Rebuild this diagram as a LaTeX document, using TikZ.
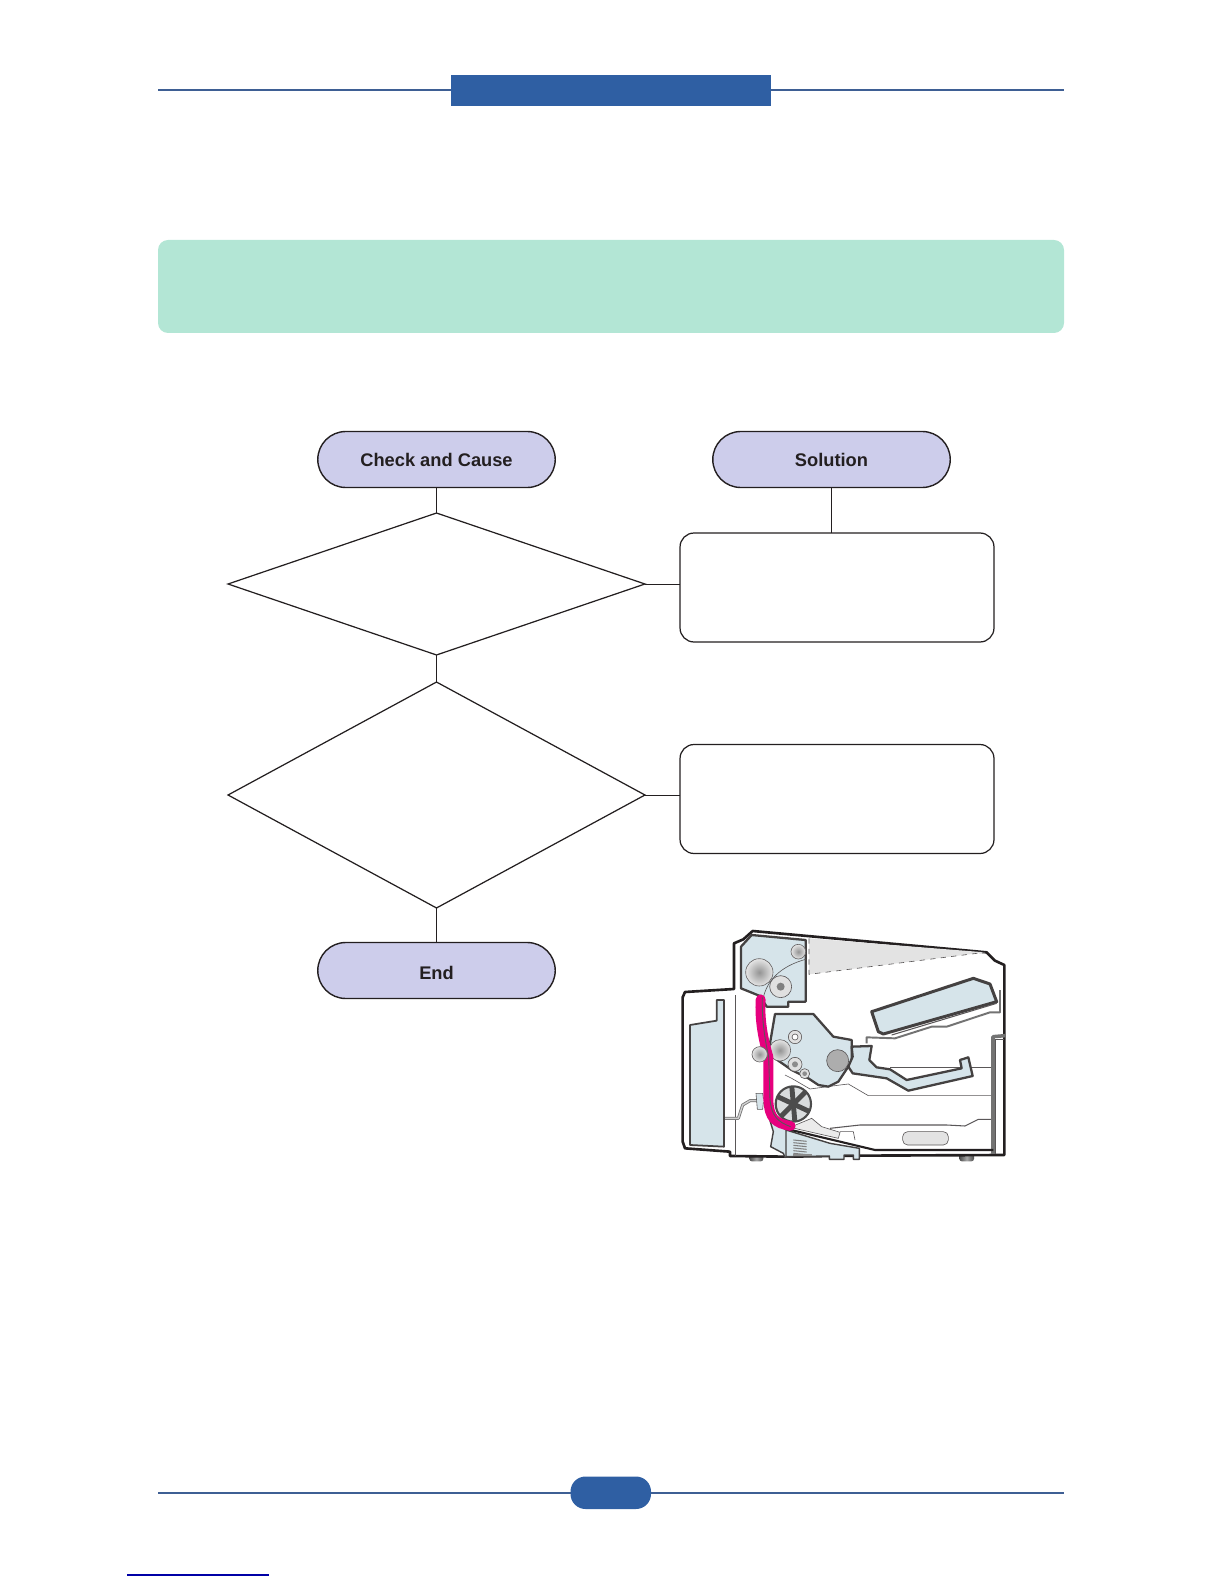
\documentclass[tikz,border=0pt]{standalone}
\usepackage{fontspec}
\setmainfont{Liberation Sans}
\usepackage{xcolor}
\usepackage{tikz}
\usetikzlibrary{positioning, shapes.geometric}
\definecolor{headblue}{HTML}{2F5FA3}
\definecolor{ruleblue}{HTML}{3E5F94}
\definecolor{mintband}{HTML}{B3E6D5}
\definecolor{lilacfill}{HTML}{CDCDEB}
\definecolor{inkline}{HTML}{231F20}
\definecolor{partblue}{HTML}{D6E4EA}
\definecolor{paperpink}{HTML}{E6007E}
\tikzset{
  endbox/.style={draw=inkline, fill=lilacfill, line width=0.8pt, rounded corners=5.6mm, minimum width=4.75cm, minimum height=1.12cm, inner sep=0pt, outer sep=0pt, font=\fontsize{10.4}{12}\selectfont\bfseries, text=inkline},
  checkbox/.style={draw=inkline, shape=diamond, line width=0.7pt, minimum width=8.34cm, inner sep=0pt, outer sep=0pt},
  solvebox/.style={draw=inkline, line width=0.7pt, rounded corners=2.8mm, minimum width=6.28cm, minimum height=2.18cm, inner sep=0pt, outer sep=0pt},
  link/.style={draw=inkline, line width=0.5pt},
  part/.style={draw=inkline!85, fill=partblue, line width=1.3pt, line join=round},
  thin part/.style={draw=inkline!75, line width=0.35pt},
  soft roller/.style={draw=inkline!70, line width=0.35pt, shade, shading=radial, inner color=black!42, outer color=black!10},
  grey pipe/.style={draw=black!55, line width=1.7pt, line join=round},
  grey core/.style={draw=black!18, line width=0.8pt, line join=round}
}
\begin{document}
\begin{tikzpicture}[x=0.02cm, y=-0.02cm]
    \useasboundingbox (0,0) rectangle (1224,1584);

    % page furniture
    \draw[ruleblue, line width=0.8pt] (158,90) -- (1064,90);
    \fill[headblue] (451,75) rectangle (771,106.5);
    \fill[mintband, rounded corners=2mm] (158,240) rectangle (1064,333);
    \draw[ruleblue, line width=0.8pt] (158,1493) -- (1064,1493);
    \fill[headblue, rounded corners=3mm] (570.5,1476.5) rectangle (651,1509);
    \draw[blue!65!black, line width=0.8pt] (127,1575) -- (269,1575);

    % flow
    \node[endbox] (check) at (436.5,459.5) {Check and Cause};
    \node[endbox] (solution) at (831.5,459.5) {Solution};
    \node[checkbox, minimum height=2.84cm] (first) at (436.5,584) {};
    \node[checkbox, minimum height=4.52cm] (second) at (436.5,795) {};
    \node[endbox] (finish) at (436.5,970.5) {\raisebox{-1.1pt}[7.5pt][0pt]{End}};
    \node[solvebox] (fixa) at (837,587.5) {};
    \node[solvebox] (fixb) at (837,799) {};
    \coordinate (fixtop) at (831.5,533);
    \coordinate (fixleft) at (680,584);
    \coordinate (fixleftb) at (680,795);

    \draw[link] (check) -- (first);
    \draw[link] (solution) -- (fixtop);
    \draw[link] (first) -- (second);
    \draw[link] (second) -- (finish);
    \draw[link] (first.east) -- (fixleft);
    \draw[link] (second.east) -- (fixleftb);

    % printer, traced at three units per pixel
    \begin{scope}[shift={(660,910)}, x=0.00667cm, y=-0.00667cm]
      % feet
      \shade[left color=black!70, right color=black!70, middle color=black!35, rounded corners=0.5mm] (268,732) rectangle (310,754);
      \shade[left color=black!70, right color=black!70, middle color=black!35, rounded corners=0.5mm] (898,728) rectangle (942,754);
      % body
      \draw[draw=inkline, line width=1.5pt, line join=round, fill=white] (68,262) -- (75,246) -- (222,237) -- (222,100) -- (250,88) -- (278,63) -- (980,127) -- (1005,152) -- (1033,165) -- (1033,735) -- (600,737) -- (378,740) -- (210,738) -- (210,725) -- (75,715) -- (68,695) -- cycle;
      % grey cover wedge
      \fill[black!11] (447,85) -- (975,127) -- (447,193) -- cycle;
      \draw[thin part, dashed] (447,85) -- (447,193) -- (975,127);
      \draw[thin part] (225,255) -- (225,737);
      % inner thin lines
      \draw[thin part] (690,472) -- (995,472);
      \draw[thin part] (375,495) -- (395,505) -- (450,537) -- (540,525) -- (565,522) -- (625,557) -- (995,557);
      \draw[thin part, line width=0.6pt] (510,655) -- (600,645) -- (860,645) -- (915,648) -- (955,628) -- (995,628);
      \draw[thin part] (510,655) -- (510,680);
      \draw[thin part] (540,665) -- (580,665) -- (585,690);
      % right door
      \draw[grey pipe, line width=2pt] (1035,377) -- (999,380) -- (999,732);
      \draw[thin part] (1033,388) -- (1007,388) -- (1007,732);
      % rear unit
      \draw[part, line width=1pt] (90,345) -- (170,332) -- (170,270) -- (192,270) -- (192,710) -- (90,705) -- cycle;
      \draw[grey pipe] (195,625) -- (235,625) -- (248,585) -- (270,572) -- (292,572);
      \draw[grey core] (195,625) -- (235,625) -- (248,585) -- (270,572) -- (292,572);
      \draw[thin part, fill=partblue] (288,550) -- (308,550) -- (310,565) -- (330,565) -- (330,575) -- (310,578) -- (308,598) -- (292,598) -- cycle;
      % fuser
      \draw[part] (243,110) -- (275,75) -- (437,90) -- (437,275) -- (385,275) -- (385,290) -- (320,290) -- (300,258) -- (243,235) -- cycle;
      \draw[soft roller] (298,187) circle (41);
      \draw[thin part, fill=black!12] (362,230) circle (33);
      \fill[black!50] (362,230) circle (12);
      \draw[soft roller] (415,125) circle (22);
      \draw[thin part] (310,262) .. controls (325,200) and (375,165) .. (437,148);
      % cartridge
      \draw[part] (345,312) -- (460,312) -- (520,380) -- (575,390) -- (575,455) -- (535,515) -- (505,530) -- (475,525) -- (445,505) -- (395,480) -- (345,445) -- (330,400) -- cycle;
      \draw[thin part, fill=black!12] (405,381) circle (20);
      \draw[thin part, fill=white] (405,381) circle (9);
      \draw[soft roller] (360,421) circle (32);
      \draw[thin part, fill=black!12] (405,463) circle (21);
      \fill[black!45] (405,463) circle (9);
      \draw[thin part, fill=black!12] (434,491) circle (15);
      \fill[black!45] (434,491) circle (7);
      \draw[thin part, fill=black!32] (533,452) circle (33);
      % transfer arm
      \draw[part] (575,410) -- (635,408) -- (628,450) -- (650,472) -- (690,478) -- (740,510) -- (905,475) -- (900,450) -- (925,442) -- (938,498) -- (745,542) -- (680,505) -- (578,490) -- (565,470) -- (578,440) -- cycle;
      % output tray
      \draw[part, line width=1.7pt] (635,305) -- (940,205) -- (990,222) -- (1010,275) -- (670,372) -- (655,365) -- cycle;
      \draw[grey pipe, line width=1.1pt] (620,400) -- (620,382) -- (705,385) -- (815,350) -- (860,350) -- (990,307) -- (1020,307) -- (1020,240);
      \draw[thin part, line width=0.6pt] (695,375) -- (1010,280);
      % lower feed block
      \draw[part, line width=0.8pt] (330,632) -- (340,665) -- (332,710) -- (370,730) -- (375,742) -- (400,740) -- (380,660) -- cycle;
      \draw[part, line width=0.8pt] (378,660) -- (510,700) -- (598,715) -- (598,748) -- (580,748) -- (580,735) -- (552,735) -- (552,748) -- (508,748) -- (508,738) -- (378,740) -- cycle;
      % spring
      \foreach \springy in {690,698,...,730}
        \draw[black!50, line width=0.6pt] (400,\springy) -- (440,\springy+4);
      \fill[black!45] (400,731) rectangle (455,738);
      \draw[thin part, fill=black!8] (390,652) -- (455,625) -- (485,650) -- (540,667) -- (535,685) -- cycle;
      \draw[draw=inkline, line width=1.2pt] (385,658) -- (645,720) -- (1000,720);
      \draw[thin part, fill=black!11, rounded corners=1mm] (728,665) rectangle (865,705);
      % pick-up roller
      \draw[draw=black!70, line width=1.2pt, fill=partblue!60!black!30] (400,582) circle (53);
      \foreach \spoke in {25,85,135}
        \draw[black!70, line width=2.8pt] (400,582) ++(\spoke:53) -- ++(\spoke+180:106);
      % paper path
      \draw[paperpink, line width=5.6pt, line cap=round, line join=round] (302,268) .. controls (298,330) and (310,390) .. (325,440) -- (325,570) .. controls (328,625) and (345,640) .. (392,648);
      \draw[thin part, line width=0.5pt] (307,262) .. controls (305,330) and (315,390) .. (326,440) -- (330,570) .. controls (335,615) and (350,635) .. (392,650);
      % roller over the path
      \draw[soft roller] (299,433) circle (23);
    \end{scope}
  \end{tikzpicture}
\end{document}
